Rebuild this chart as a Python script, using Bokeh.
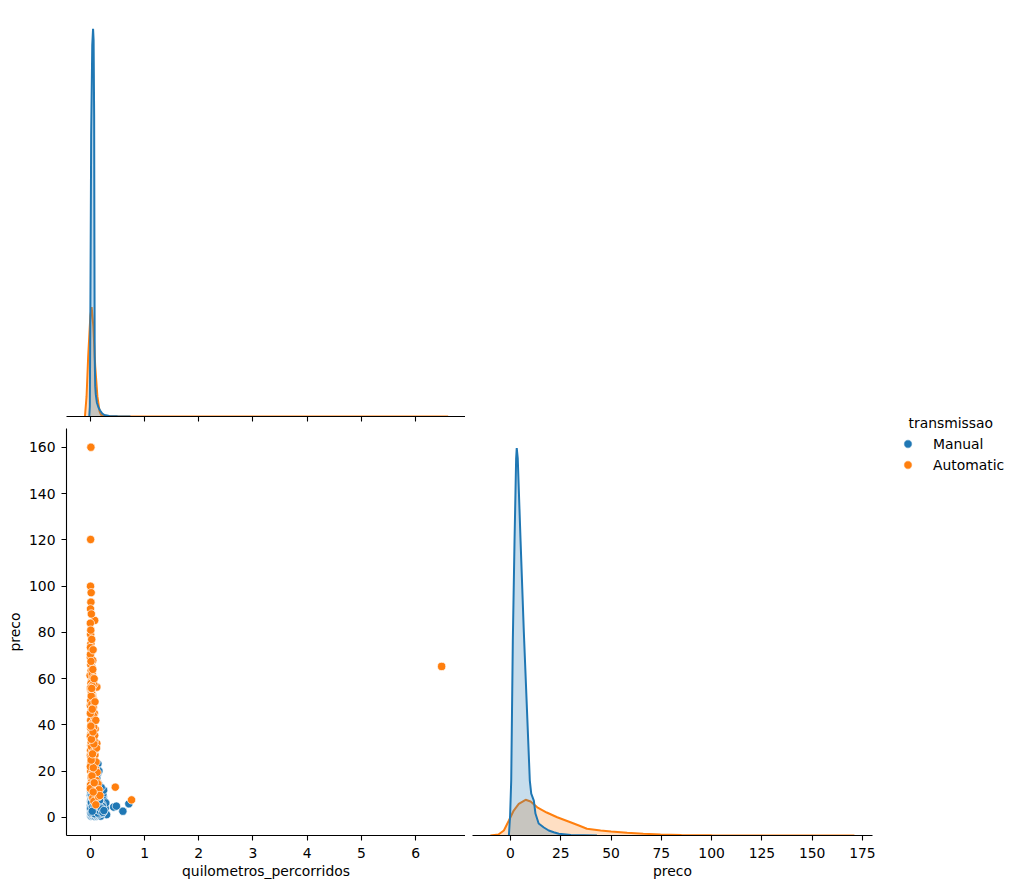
from bokeh.plotting import figure
from bokeh.layouts import row, column
from bokeh.models import Range1d, FixedTicker, Label, Legend, LegendItem
from bokeh.embed import file_html
from bokeh.resources import INLINE

# ---------------- data ----------------
hue_levels = ["Manual", "Automatic"]
colors = {"Manual": "#1f77b4", "Automatic": "#ff7f0e"}

# KDE of quilometros_percorridos (x in km, density per km)
km_kde_manual_x = [-20000, -10000, 0, 15000, 35000, 50000, 60000, 70000, 75000, 80000, 90000,
                   100000, 120000, 150000, 180000, 220000, 260000, 350000, 500000, 740000]
km_kde_manual_y = [0, 3.0e-7, 3.0e-6, 8.4e-6, 1.11e-5, 1.158e-5, 1.125e-5, 9.0e-6, 5.1e-6, 1.8e-6, 9.0e-7,
                   6.6e-7, 4.2e-7, 2.7e-7, 1.8e-7, 9.0e-8, 4.5e-8, 1.8e-8, 9.0e-9, 0]
km_kde_auto_x = [-100000, -70000, -40000, 0, 24000, 55000, 90000, 130000, 170000, 200000, 300000,
                 500000, 800000, 1000000, 6000000, 6480000, 6600000]
km_kde_auto_y = [0, 6.0e-7, 1.8e-6, 3.0e-6, 3.27e-6, 2.7e-6, 1.5e-6, 6.0e-7, 1.5e-7, 4.5e-8, 1.5e-8,
                 9.0e-9, 3.0e-9, 1.5e-9, 6.0e-10, 3.0e-9, 0]

# KDE of preco
preco_kde_manual_x = [-0.8, -0.2, 0.35, 1.15, 2.0, 2.8, 3.1, 3.6, 5.0, 6.6, 8.2, 9.6, 10.3, 11.6,
                      12.4, 14.0, 16.6, 19.0, 21.5, 24.0, 30.0, 43.0]
preco_kde_manual_y = [0, 0.008, 0.022, 0.078, 0.118, 0.151, 0.1552, 0.151, 0.118, 0.082, 0.050, 0.022,
                      0.0168, 0.014, 0.0088, 0.0048, 0.0032, 0.002, 0.0013, 0.0007, 0.0002, 0.0]
preco_kde_auto_x = [-10, -6, -3.3, -0.8, 1.6, 4.1, 7.5, 10, 13.3, 18, 23.2, 29.8, 34, 38, 44.8, 50,
                    58, 66, 74.6, 85, 100, 130, 160, 171]
preco_kde_auto_y = [0, 0.0004, 0.002, 0.006, 0.010, 0.0127, 0.0143, 0.0136, 0.0113, 0.0092, 0.0073,
                    0.0053, 0.004, 0.0027, 0.002, 0.0016, 0.0011, 0.0007, 0.0004, 0.0002, 0.0001,
                    0.00004, 0.00002, 0]

# scatter: quilometros_percorridos vs preco
manual_km = [5000, 12000, 20000, 25000, 30000, 35000, 40000, 45000, 50000, 55000, 60000, 65000, 70000,
             75000, 80000, 85000, 90000, 95000, 100000, 105000, 110000, 115000, 120000, 125000, 130000,
             135000, 140000, 145000, 150000, 155000, 160000, 165000, 170000, 175000, 180000, 185000,
             190000, 195000, 200000, 205000, 210000, 215000, 220000, 225000, 230000, 235000, 240000,
             245000, 250000, 260000, 270000, 280000, 300000, 430000, 480000, 600000, 710000,
             3000, 10000, 18000, 28000, 38000, 48000, 58000, 68000, 78000, 88000, 98000, 108000, 118000,
             128000, 138000, 148000, 140000, 158000, 168000, 178000, 198000, 218000,
             8000, 15000, 22000, 33000, 42000, 52000, 62000, 72000, 82000, 92000, 102000, 112000, 122000,
             132000, 142000, 152000, 162000, 172000, 182000, 192000,
             45000, 70000, 95000, 2000, 7000, 1000, 16000, 26000, 55000, 85000, 115000, 150000, 190000,
             230000, 255000, 265000, 275000, 285000, 245000,
             6000, 14000, 24000, 34000, 44000, 54000, 64000, 74000, 84000, 94000, 104000, 114000,
             124000, 134000, 144000, 154000, 164000, 174000, 184000, 194000, 204000, 214000, 224000,
             20000, 40000, 60000, 80000, 100000, 120000, 160000, 200000,
             11000, 21000, 31000, 41000, 51000, 61000, 71000, 81000, 91000, 101000, 111000, 121000,
             131000, 141000, 151000, 161000, 171000, 181000, 191000, 201000, 211000, 221000, 236000,
             9000, 19000, 29000, 39000, 49000, 59000, 69000, 79000, 89000, 99000, 109000, 119000,
             129000, 139000, 149000, 159000, 169000, 179000, 189000, 209000, 229000, 249000,
             30000, 35000]
manual_preco = [2.5, 3.1, 4.2, 5.5, 2.9, 6.1, 3.5, 4.8, 7.2, 2.2, 5.0, 3.8, 6.5,
                4.1, 2.7, 5.8, 3.3, 8.1, 4.5, 2.0, 6.9, 3.7, 5.2, 1.8, 4.4,
                7.5, 3.0, 5.6, 2.4, 9.0, 4.0, 1.5, 6.2, 3.4, 8.5, 2.6,
                5.1, 1.2, 4.6, 7.9, 2.1, 10.5, 3.9, 6.4, 1.6, 5.3, 8.8,
                2.8, 4.3, 3.6, 2.3, 1.9, 1.2, 4.5, 4.9, 2.7, 5.9,
                9.5, 11.2, 12.5, 14.1, 10.8, 13.2, 15.5, 11.9, 9.8, 12.8, 16.2, 10.2, 13.8,
                18.5, 11.5, 14.6, 23.2, 20.1, 12.2, 10.1, 9.2, 11.0,
                0.6, 1.1, 0.9, 1.4, 0.7, 1.3, 0.8, 1.7, 0.5, 1.0, 0.9, 1.4, 0.6,
                1.1, 0.8, 1.3, 0.7, 1.0, 0.9, 0.6,
                2.7, 8.0, 6.0, 5.0, 7.0, 3.5, 8.3, 9.0, 10.0, 7.7, 9.3, 7.0, 3.2,
                9.9, 7.2, 5.4, 4.0, 6.3, 11.8,
                4.0, 6.6, 2.0, 8.6, 5.7, 3.0, 9.6, 2.4, 6.8, 4.9, 7.4, 2.9,
                8.9, 3.3, 6.7, 2.2, 5.0, 7.8, 3.9, 6.0, 2.5, 5.8, 3.6,
                17.0, 19.5, 15.0, 21.5, 18.0, 16.8, 14.0, 13.0,
                1.9, 3.6, 5.2, 2.6, 4.4, 6.9, 1.7, 3.1, 5.9, 2.3, 4.7, 7.1,
                2.0, 3.8, 6.2, 1.4, 4.1, 2.9, 5.5, 3.4, 1.8, 4.8, 2.5,
                3.9, 6.3, 2.1, 4.6, 8.2, 3.0, 5.4, 1.6, 7.6, 3.5, 6.0, 2.4,
                4.9, 1.9, 5.6, 3.2, 7.3, 2.8, 4.2, 3.7, 2.2, 3.0,
                9.5, 2.7]

auto_km = [10000, 5000, 3000, 15000, 10000, 3000, 80000, 0, 5000, 10000, 20000, 0, 45000, 30000,
           -5000, 25000, 120000, 5000, 40000, 60000, 0, 20000, 90000, 10000, 10000, 0, 120000, 30000,
           70000, 100000, 460000, 760000, 6480000,
           2000, 8000, 15000, 35000, 50000, 12000, 65000, 22000, 42000, 6000, 28000, 55000, 14000,
           75000, 35000, 5000, 48000, 18000, 62000, 26000, 8000, 40000, 70000, 16000, 52000, 4000,
           32000, 85000, 20000, 44000, 10000, 60000, 28000, 95000, 6000, 38000, 75000, 15000, 50000,
           110000, 25000, 68000, 3000, 42000, 90000, 18000, 56000, 130000, 80000,
           45000, 65000, 100000, 150000, 12000, 24000, 36000, 9000, 58000, 16000, 30000, 45000,
           12000, 2000, 25000, 8000, 18000, 60000, 80000, 105000, 125000, 140000, 160000, 175000,
           115000, 50000, 2000, 0, 0, 0, 0, 100000, 85000, 70000,
           30000, 55000, 15000, 40000, 65000, 20000, 48000, 10000, 35000, 72000, 25000, 52000]
auto_preco = [160.1, 120.2, 100.0, 97.2, 93.1, 90.2, 85.2, 84.0, 79.1, 75.1, 72.2, 69.3, 67.9, 65.0,
              61.4, 59.2, 56.4, 55.2, 53.0, 51.0, 48.4, 44.8, 38.3, 36.2, 31.1, 26.8, 32.0, 20.3,
              17.4, 13.3, 13.1, 7.6, 65.3,
              70.5, 66.0, 63.5, 62.0, 60.3, 58.0, 57.5, 54.0, 52.0, 50.5, 49.0, 47.5, 46.0,
              45.0, 43.5, 42.0, 41.0, 40.0, 39.0, 37.5, 35.0, 34.0, 33.0, 32.5, 30.0, 29.0,
              28.0, 27.0, 25.5, 24.5, 23.5, 23.0, 22.0, 21.0, 20.0, 19.0, 18.5, 17.5, 16.5,
              16.0, 15.5, 14.5, 14.0, 13.5, 12.5, 12.0, 11.5, 11.0, 10.0,
              8.5, 7.0, 5.5, 9.0, 26.0, 30.5, 35.5, 38.5, 44.0, 52.5, 57.0, 64.0,
              67.5, 73.5, 77.0, 81.0, 88.0, 28.5, 35.5, 24.0, 19.5, 14.5, 12.0, 9.5,
              30.0, 72.5, 56.0, 35.0, 22.0, 45.0, 12.5, 42.0, 50.0, 60.0,
              18.0, 21.5, 24.8, 27.5, 31.8, 33.8, 37.0, 39.5, 46.8, 15.0, 55.8, 11.0]

km_ticks = [0, 1000000, 2000000, 3000000, 4000000, 5000000, 6000000]
km_tick_labels = ["0", "1", "2", "3", "4", "5", "6"]
preco_ticks = [0, 20, 40, 60, 80, 100, 120, 140, 160]
preco_x_ticks = [0, 25, 50, 75, 100, 125, 150, 175]

# ---------------- styling ----------------
FONT = "DejaVu Sans"
FS = "13.9px"


def style_axis(ax):
    ax.axis_line_color = "black"
    ax.axis_line_width = 1.1
    ax.major_tick_line_color = "black"
    ax.major_tick_line_width = 1.1
    ax.major_tick_in = 0
    ax.major_tick_out = 5
    ax.minor_tick_line_color = None
    ax.major_label_text_font = FONT
    ax.major_label_text_font_size = FS
    ax.major_label_text_color = "black"
    ax.major_label_standoff = 7
    ax.axis_label_text_font = FONT
    ax.axis_label_text_font_size = FS
    ax.axis_label_text_font_style = "normal"
    ax.axis_label_text_color = "black"


def base_fig(**kw):
    p = figure(output_backend="svg", toolbar_location=None, **kw)
    p.outline_line_color = None
    p.grid.visible = False
    p.background_fill_color = "white"
    p.border_fill_color = "white"
    return p


km_range = Range1d(-440000, 6920000)

# top-left: KDE of km (diagonal, no y axis, tick labels shared with the scatter below)
pA = base_fig(width=465, height=428, x_range=km_range, y_range=Range1d(0, 1.216e-5),
              y_axis_location=None, min_border_left=66, min_border_right=0,
              min_border_top=9, min_border_bottom=12)
for lvl, xs, ys in [("Automatic", km_kde_auto_x, km_kde_auto_y),
                    ("Manual", km_kde_manual_x, km_kde_manual_y)]:
    pA.varea(x=xs, y1=0, y2=ys, fill_color=colors[lvl], fill_alpha=0.25)
    pA.line(x=xs, y=ys, line_color=colors[lvl], line_width=2)
style_axis(pA.xaxis[0])
pA.xaxis[0].ticker = FixedTicker(ticks=km_ticks)
pA.xaxis[0].major_label_text_color = None
pA.xaxis[0].major_label_standoff = 0

# bottom-left: scatter
pB = base_fig(width=465, height=460, x_range=km_range, y_range=Range1d(-7.8, 168.2),
              min_border_left=66, min_border_right=0, min_border_top=0, min_border_bottom=53)
pB.scatter(x=manual_km, y=manual_preco, size=8.3, fill_color=colors["Manual"],
           line_color="white", line_width=0.7)
pB.scatter(x=auto_km, y=auto_preco, size=8.3, fill_color=colors["Automatic"],
           line_color="white", line_width=0.7)
style_axis(pB.xaxis[0])
style_axis(pB.yaxis[0])
pB.xaxis[0].ticker = FixedTicker(ticks=km_ticks)
pB.xaxis[0].major_label_overrides = dict(zip(km_ticks, km_tick_labels))
pB.xaxis[0].axis_label = "quilometros_percorridos"
pB.xaxis[0].axis_label_standoff = 2
pB.yaxis[0].ticker = FixedTicker(ticks=preco_ticks)
pB.yaxis[0].major_label_standoff = 6
pB.yaxis[0].axis_label = "preco"
pB.yaxis[0].axis_label_standoff = 3
pB.add_layout(Label(x=6920000, y=-22.9, text="1e6", text_align="right", text_baseline="middle",
                    text_font=FONT, text_font_size=FS, text_color="black"))

# bottom-right: KDE of preco
pC = base_fig(width=417, height=460, x_range=Range1d(-18.9, 180), y_range=Range1d(0, 0.163),
              y_axis_location=None, min_border_left=7, min_border_right=10,
              min_border_top=0, min_border_bottom=53)
for lvl, xs, ys in [("Automatic", preco_kde_auto_x, preco_kde_auto_y),
                    ("Manual", preco_kde_manual_x, preco_kde_manual_y)]:
    pC.varea(x=xs, y1=0, y2=ys, fill_color=colors[lvl], fill_alpha=0.25)
    pC.line(x=xs, y=ys, line_color=colors[lvl], line_width=2)
style_axis(pC.xaxis[0])
pC.xaxis[0].ticker = FixedTicker(ticks=preco_x_ticks)
pC.xaxis[0].axis_label = "preco"
pC.xaxis[0].axis_label_standoff = 2

# legend panel
pD = base_fig(width=135, height=888, x_range=Range1d(0, 135), y_range=Range1d(0, 888),
              x_axis_location=None, y_axis_location=None,
              min_border_left=0, min_border_right=0, min_border_top=0, min_border_bottom=0)
items = []
for lvl in hue_levels:
    r = pD.scatter(x=[-100], y=[-100], size=8.3, fill_color=colors[lvl], line_color="white",
                   line_width=0.7)
    items.append(LegendItem(label=lvl, renderers=[r]))
leg = Legend(items=items, location=(13, 413), margin=0, padding=0, spacing=0,
             glyph_width=25, glyph_height=21, label_height=21, label_standoff=13,
             label_text_font=FONT, label_text_font_size=FS, label_text_color="black",
             border_line_color=None, background_fill_alpha=0)
pD.add_layout(leg)
pD.add_layout(Label(x=26, y=466, text="transmissao", text_align="left", text_baseline="middle",
                    text_font=FONT, text_font_size=FS, text_color="black"))

layout = row(column(pA, row(pB, pC)), pD)
open("out.html", "w").write(file_html(layout, INLINE))
